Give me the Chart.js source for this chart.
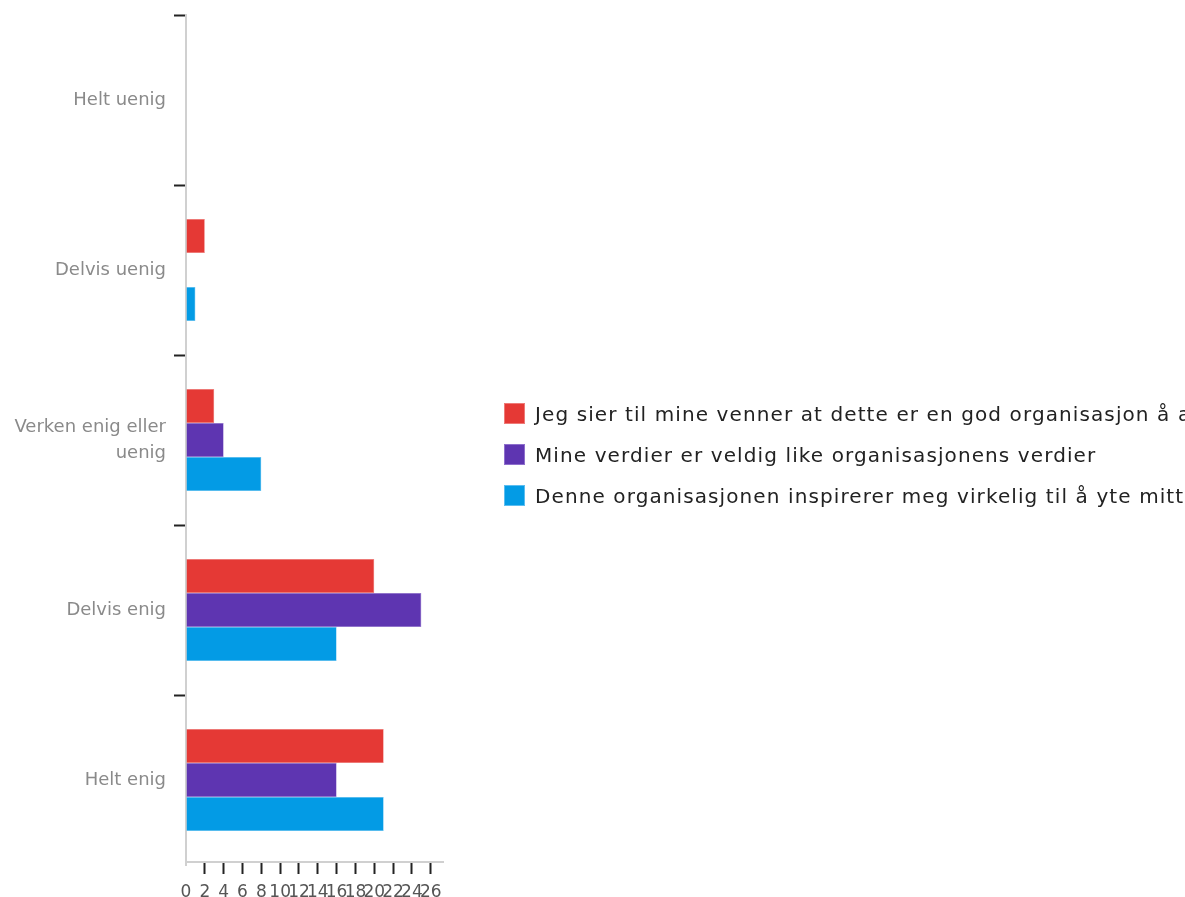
<!DOCTYPE html>
<html>
<head>
<meta charset="utf-8">
<script src="https://cdn.jsdelivr.net/npm/chart.js@4/dist/chart.umd.min.js"></script>
<style>
  html, body { margin: 0; padding: 0; background: #fff; overflow: hidden; }
  #wrap { position: relative; width: 1185px; height: 897px; overflow: hidden; }
  #chart { position: absolute; left: 0; top: 0; }
  #legend { position: absolute; left: 504px; top: 393px; white-space: nowrap;
            font-family: "DejaVu Sans", sans-serif; font-size: 20px; letter-spacing: 1.1px; color: #222; }
  .item { display: flex; align-items: center; height: 41px; }
  .swatch { width: 21px; height: 21px; margin-right: 10px; box-sizing: border-box; flex: none; }
</style>
</head>
<body>
<div id="wrap">
  <canvas id="chart" width="1185" height="897"></canvas>
  <div id="legend"></div>
</div>
<script>
const categories = ['Helt uenig', 'Delvis uenig', ['Verken enig eller', 'uenig'], 'Delvis enig', 'Helt enig'];
const seriesNames = [
  'Jeg sier til mine venner at dette er en god organisasjon å arbeide for',
  'Mine verdier er veldig like organisasjonens verdier',
  'Denne organisasjonen inspirerer meg virkelig til å yte mitt beste'
];
const venner = [0, 2, 3, 20, 21];
const verdier = [0, 0, 4, 25, 16];
const inspirerer = [0, 1, 8, 16, 21];
const colors = ['#e53935', '#5e35b1', '#039be5'];
const borders = ['#ee7a77', '#8e6fcc', '#5cbdf0'];
const xTicks = [0, 2, 4, 6, 8, 10, 12, 14, 16, 18, 20, 22, 24, 26];

const seriesValues = [venner, verdier, inspirerer];
const datasets = seriesValues.map((vals, i) => ({
  label: seriesNames[i],
  data: vals,
  backgroundColor: colors[i],
  borderColor: borders[i],
  borderWidth: 0.6,
  categoryPercentage: 0.6,
  barPercentage: 1.0
}));

// The category bands run a few pixels past the value axis line at the bottom
const bandOverrun = {
  id: 'bandOverrun',
  afterLayout(chart) {
    const y = chart.scales.y;
    y.bottom += 3;
    y.height = y.bottom - y.top;
    y.configure();
  }
};

const chart = new Chart(document.getElementById('chart'), {
  type: 'bar',
  data: { labels: categories, datasets },
  plugins: [bandOverrun],
  options: {
    indexAxis: 'y',
    responsive: false,
    animation: false,
    layout: { padding: { top: 15, right: 742, left: 0, bottom: 0 } },
    plugins: { legend: { display: false }, tooltip: { enabled: false } },
    scales: {
      y: {
        grid: { display: true, drawOnChartArea: false, drawTicks: true, tickLength: 12,
                tickColor: c => c.tick ? '#222' : 'rgba(0,0,0,0)', tickWidth: 2, offset: true },
        border: { color: '#d0d0d0', width: 2 },
        ticks: { color: '#8a8a8a', padding: 8,
                 font: { family: 'DejaVu Sans', size: 18, lineHeight: 1.45 } },
        afterFit: s => { s.width = 186; s.paddingTop = 0; s.paddingBottom = 0; }
      },
      x: {
        min: 0,
        max: 27.3,
        grid: { display: true, drawOnChartArea: false, drawTicks: true, tickLength: 12,
                tickColor: c => (c.tick && c.tick.value === 0) ? 'rgba(0,0,0,0)' : '#222', tickWidth: 2 },
        border: { color: '#d0d0d0', width: 2 },
        afterBuildTicks: s => { s.ticks = xTicks.map(v => ({ value: v })); },
        ticks: { color: '#555', padding: 8, autoSkip: false, maxRotation: 0,
                 font: { family: 'DejaVu Sans', size: 17 } },
        afterFit: s => { s.height = 35; s.paddingLeft = 0; s.paddingRight = 0; }
      }
    }
  }
});

// HTML legend built from the dataset names and colours
const legend = document.getElementById('legend');
seriesNames.forEach((name, i) => {
  const row = document.createElement('div');
  row.className = 'item';
  const sw = document.createElement('span');
  sw.className = 'swatch';
  sw.style.background = colors[i];
  sw.style.border = '1px solid ' + borders[i];
  const txt = document.createElement('span');
  txt.textContent = name;
  row.appendChild(sw);
  row.appendChild(txt);
  legend.appendChild(row);
});
</script>
</body>
</html>
